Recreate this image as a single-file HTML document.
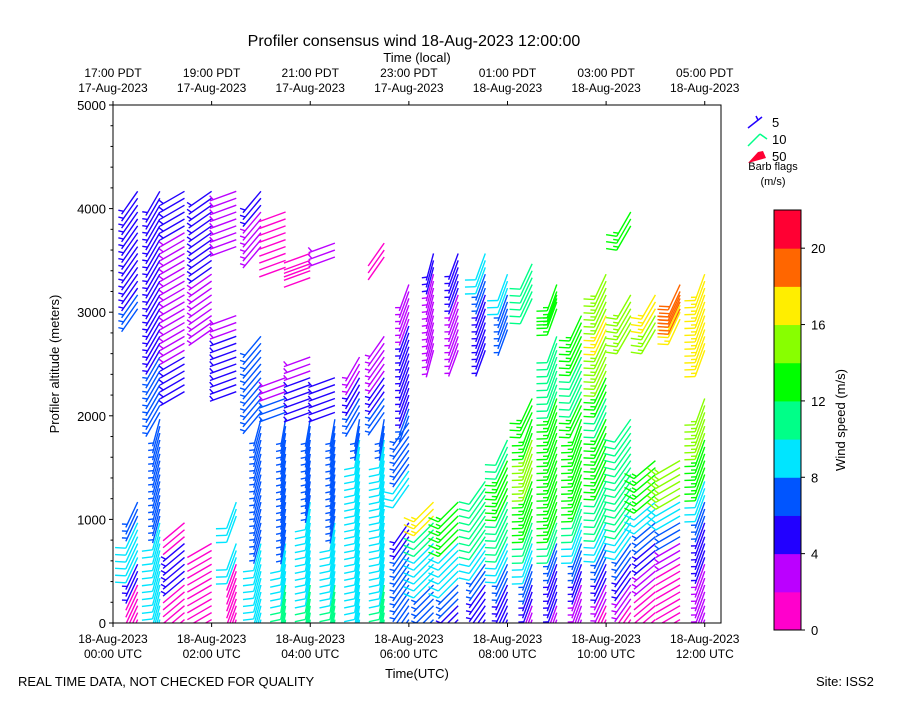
<!DOCTYPE html>
<html><head><meta charset="utf-8"><style>
body{margin:0;background:#fff;font-family:"Liberation Sans",sans-serif}
svg text{font-family:"Liberation Sans",sans-serif;fill:#000}
</style></head><body>
<svg id="chart" width="900" height="700" viewBox="0 0 900 700" xmlns="http://www.w3.org/2000/svg">
<rect width="900" height="700" fill="#fff"/>
<text x="414" y="46" font-size="16" text-anchor="middle">Profiler consensus wind 18-Aug-2023 12:00:00</text>
<text x="417" y="62" font-size="13" text-anchor="middle">Time (local)</text>
<clipPath id="plotclip"><rect x="113" y="105" width="608" height="518"/></clipPath>
<g id="barbs" clip-path="url(#plotclip)"></g>
<rect x="113" y="105" width="608" height="518" fill="none" stroke="#000" stroke-width="1"/>
<g id="axes"></g>
<text x="417" y="678" font-size="13" text-anchor="middle">Time(UTC)</text>
<text transform="translate(59,364) rotate(-90)" font-size="13" text-anchor="middle">Profiler altitude (meters)</text>
<text x="18" y="686" font-size="13">REAL TIME DATA, NOT CHECKED FOR QUALITY</text>
<text x="816" y="686" font-size="13">Site: ISS2</text>
<g>
<line x1="748" y1="128" x2="762" y2="117" stroke="#2200ff" stroke-width="1.5"/><line x1="758" y1="120" x2="756" y2="116" stroke="#2200ff" stroke-width="1.5"/>
<text x="772" y="127" font-size="13">5</text>
<line x1="748" y1="146" x2="760" y2="134" stroke="#00ff88" stroke-width="1.5"/><line x1="760" y1="134" x2="767" y2="139" stroke="#00ff88" stroke-width="1.5"/>
<text x="772" y="144" font-size="13">10</text>
<polygon points="748,163 758,152 763,151 766,158" fill="#ff0033"/>
<text x="772" y="161" font-size="13">50</text>
<text x="773" y="170" font-size="11" text-anchor="middle">Barb flags</text>
<text x="773" y="185" font-size="11" text-anchor="middle">(m/s)</text>
</g>
<g id="cbar"></g>
<text transform="translate(845,420) rotate(-90)" font-size="13" text-anchor="middle">Wind speed (m/s)</text>
</svg>
<script>
const colorBounds=[0,2,4,6,8,10,12,14,16,18,20,22];
const colorList=["#ff00cc","#bb00ff","#2200ff","#0055ff","#00e5ff","#00ff88","#00ff00","#88ff00","#ffee00","#ff6600","#ff0033"];
const xTickHours=[0,2,4,6,8,10,12];
const xTickUTC=[["18-Aug-2023","00:00 UTC"],["18-Aug-2023","02:00 UTC"],["18-Aug-2023","04:00 UTC"],["18-Aug-2023","06:00 UTC"],["18-Aug-2023","08:00 UTC"],["18-Aug-2023","10:00 UTC"],["18-Aug-2023","12:00 UTC"]];
const xTickLocal=[["17:00 PDT","17-Aug-2023"],["19:00 PDT","17-Aug-2023"],["21:00 PDT","17-Aug-2023"],["23:00 PDT","17-Aug-2023"],["01:00 PDT","18-Aug-2023"],["03:00 PDT","18-Aug-2023"],["05:00 PDT","18-Aug-2023"]];
const yTicks=[0,1000,2000,3000,4000,5000];
const cbTicks=[0,4,8,12,16,20];
// profile times (UTC hours)
const profTimes=[0,0.5,0.95,1.45,2.0,2.5,3.0,3.5,4.0,4.5,5.0,5.5,6.0,6.5,7.0,7.55,8.0,8.5,9.0,9.5,10.0,10.5,11.0,11.5,12.0];
// wind direction (deg from) below / above 2000 m
const dirLow=[200,205,195,230,240,200,195,190,190,190,190,190,215,225,225,215,205,200,200,200,205,215,230,240,200];
const dirHigh=[210,215,210,240,235,250,220,250,250,250,210,215,200,195,200,200,200,205,200,205,205,210,210,205,200];
// altitude/speed pairs per profile
const profAlt=[
[700,900,1100,1300],
[100,300,500,700,900,1100,3100,3300,3500,3700,3900,4100],
[100,300,500,700,900,1100,1300,1500,1700,1900,2100,2300,2500,2700,2900,3100,3300,3500,3700,3900,4100],
[100,300,500,700,900,2300,2500,2700,2900,3100,3300,3500,3700,3900,4100],
[100,300,500,700,2900,3100,3300,3500,3700,3900,4100],
[100,300,500,700,1100,2300,2500,2700,2900,3700,3900,4100],
[100,300,500,700,900,1100,1300,1500,1700,1900,2100,2300,2500,2700,3700,3900,4100],
[100,300,500,700,900,1100,1300,1500,1700,1900,2100,2300,3500,3700,3900],
[100,300,500,700,900,1100,1300,1500,1700,1900,2100,2300,2500,3400,3500],
[100,300,500,700,900,1100,1300,1500,1700,1900,2100,2300,3600],
[100,300,500,700,900,1100,1300,1500,1700,1900,2100,2300,2500],
[100,300,500,700,900,1100,1300,1500,1700,1900,2100,2300,2500,2700,3600],
[100,300,500,700,900,1400,1600,1800,2000,2200,2400,2600,2800,3000,3200],
[100,300,500,700,900,1100,2700,2900,3100,3300,3500],
[100,300,500,700,900,1100,2700,2900,3100,3300,3500],
[100,300,500,700,900,1100,1300,2700,2900,3100,3300,3500],
[100,300,500,700,900,1100,1300,1500,1700,2900,3100,3300],
[100,300,500,700,900,1100,1300,1500,1700,1900,2100,3200,3400],
[100,300,500,700,900,1100,1300,1500,1700,1900,2100,2300,2500,2700,3100,3200],
[100,300,500,700,900,1100,1300,1500,1700,1900,2100,2300,2500,2700,2900],
[100,300,500,700,900,1100,1300,1500,1700,1900,2100,2300,2500,2700,2900,3100,3300],
[100,300,500,700,900,1100,1300,1500,1700,1900,2900,3100,3900],
[100,300,500,700,900,1100,1300,1500,2900,3100],
[100,300,500,700,900,1100,1300,1500,3000,3100,3200],
[100,300,500,700,900,1100,1300,1500,1700,1900,2100,2700,2900,3100,3300]];
const profSpd=[
[7,9,9,7],
[1,1,5,9,9,7,7,5,5,5,5,5],
[9,9,9,9,9,7,7,7,7,7,7,7,7,5,5,5,5,5,5,5,5],
[1,1,5,5,1,5,5,3,3,3,3,3,3,5,5],
[1,1,1,1,3,3,3,5,5,5,5],
[1,1,1,9,9,5,5,5,3,3,3,3],
[9,9,9,9,7,7,7,7,7,7,7,7,7,7,3,3,5],
[11,11,9,9,7,7,7,7,7,7,7,3,1,1,1],
[11,11,9,9,9,9,7,7,7,7,5,5,3,1,1],
[11,11,9,9,9,7,7,7,7,7,5,5,3],
[9,9,9,9,9,9,9,9,9,7,7,5,3],
[11,11,9,9,9,9,9,9,9,7,7,5,3,3,1],
[7,7,7,7,5,9,7,7,7,5,5,5,5,3,3],
[7,7,9,9,11,17,3,3,3,3,5],
[5,7,9,9,13,13,3,3,3,5,5],
[5,5,7,9,11,11,11,5,5,5,7,9],
[5,5,7,9,11,11,13,13,11,7,7,9],
[3,5,7,9,11,13,13,15,15,13,13,11,11],
[3,5,5,7,11,13,13,13,13,13,13,11,11,11,13,13],
[3,3,5,7,9,11,13,13,13,13,13,11,11,13,13],
[1,3,5,7,9,11,11,13,13,13,11,13,15,15,17,15,15],
[1,3,5,7,9,11,11,11,11,11,15,15,13],
[1,1,3,5,7,9,13,13,15,17],
[1,1,1,3,7,9,15,15,17,19,19],
[3,3,3,5,5,7,9,13,13,15,15,17,17,17,17]];

const X0=113,X1=721,Y0=623,Y1=105,HMAX=12.33;
const xs=h=>X0+(h/HMAX)*(X1-X0);
const ys=a=>Y0-(a/5000)*(Y0-Y1);
const NS="http://www.w3.org/2000/svg";
function mk(tag,attrs,parent){const e=document.createElementNS(NS,tag);for(const k in attrs)e.setAttribute(k,attrs[k]);parent.appendChild(e);return e;}
function colorFor(s){for(let i=0;i<colorList.length;i++){if(s<colorBounds[i+1])return colorList[i];}return colorList[colorList.length-1];}

const bg=document.getElementById('barbs');
const L=28;
profTimes.forEach((t,pi)=>{
  const alts=profAlt[pi],spds=profSpd[pi];
  alts.forEach((a,li)=>{
    [a-67,a,a+67].forEach(aa=>{
      if(aa<0)return;
      const s=spds[li];
      const d=(aa<2000?dirLow[pi]:dirHigh[pi])*Math.PI/180;
      const sx=xs(t),sy=ys(aa);
      const ux=Math.sin(d),uy=-Math.cos(d);
      const tx=sx+ux*L,ty=sy+uy*L;
      const px=-uy,py=ux;
      const col=colorFor(s);
      const g=mk('g',{},bg);
      
      
      mk('line',{x1:sx,y1:sy,x2:tx,y2:ty,stroke:col,'stroke-width':1.4},g);
      let r=Math.round(s/5)*5,pos=0;
      if(r===0)return;
      const full=Math.floor(r/10),half=(r%10)?1:0;
      for(let k=0;k<full;k++){
        const bx=tx-ux*pos,by=ty-uy*pos;
        mk('line',{x1:bx,y1:by,x2:bx+px*10+ux*4,y2:by+py*10+uy*4,stroke:col,'stroke-width':1.4},g);
        pos+=3.5;
      }
      if(half){
        if(full===0)pos=3.5;
        const bx=tx-ux*pos,by=ty-uy*pos;
        mk('line',{x1:bx,y1:by,x2:bx+px*5+ux*2,y2:by+py*5+uy*2,stroke:col,'stroke-width':1.4},g);
      }
    });
  });
});

const ax=document.getElementById('axes');
xTickHours.forEach((h,i)=>{
  const x=xs(h);
  mk('line',{x1:x,y1:Y0,x2:x,y2:Y0+4,stroke:'#000'},ax);
  mk('line',{x1:x,y1:Y1,x2:x,y2:Y1-4,stroke:'#000'},ax);
  const t1=mk('text',{x:x,y:643,'font-size':12,'text-anchor':'middle'},ax);t1.textContent=xTickUTC[i][0];
  
  
  const t2=mk('text',{x:x,y:658,'font-size':12,'text-anchor':'middle'},ax);t2.textContent=xTickUTC[i][1];
  const t3=mk('text',{x:x,y:77,'font-size':12,'text-anchor':'middle'},ax);t3.textContent=xTickLocal[i][0];
  
  
  const t4=mk('text',{x:x,y:92,'font-size':12,'text-anchor':'middle'},ax);t4.textContent=xTickLocal[i][1];
});
for(let a=0;a<=5000;a+=200){const y=ys(a);mk('line',{x1:X0,y1:y,x2:X0-(a%1000===0?4:2.5),y2:y,stroke:'#000'},ax);}
yTicks.forEach(a=>{
  const t=mk('text',{x:106,y:ys(a)+5,'font-size':13,'text-anchor':'end'},ax);t.textContent=a;
  
  
});

const cb=document.getElementById('cbar');
const CX=774,CW=27,CY0=630,CY1=210;
const cys=v=>CY0-(v/22)*(CY0-CY1);
colorList.forEach((c,i)=>{
  const r=mk('rect',{x:CX,y:cys(colorBounds[i+1]),width:CW,height:cys(colorBounds[i])-cys(colorBounds[i+1])+0.5,fill:c},cb);
  
  
});
mk('rect',{x:CX,y:CY1,width:CW,height:CY0-CY1,fill:'none',stroke:'#000'},cb);
cbTicks.forEach(v=>{
  mk('line',{x1:CX+CW,y1:cys(v),x2:CX+CW+4,y2:cys(v),stroke:'#000'},cb);
  const t=mk('text',{x:CX+CW+10,y:cys(v)+5,'font-size':13},cb);t.textContent=v;
  
  
});
</script>
</body></html>
